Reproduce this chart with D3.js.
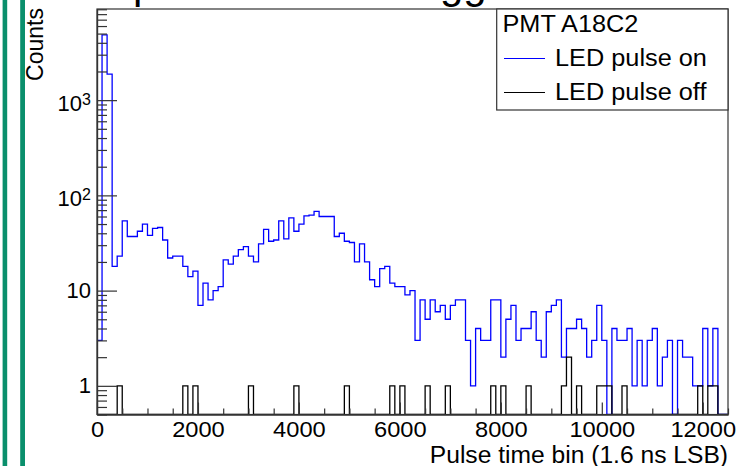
<!DOCTYPE html>
<html><head><meta charset="utf-8">
<script src="https://cdn.jsdelivr.net/npm/d3@7"></script>
<style>
body{margin:0;background:#fff}
svg{display:block}
text{font-family:"Liberation Sans",Arial,Helvetica,sans-serif;fill:#000}
</style>
</head><body>
<svg id="chart" width="748" height="466"></svg>
<script>
// ---------------- data ----------------
const binWidth = 100;            // pulse time bins (100 bins of 1.6 ns LSB units)
const xMax = 12500;
// LED pulse on (blue), counts per bin, bin i covers [i*100, (i+1)*100)
const ledOn = [
  3, 4850, 1875, 18, 23, 54, 37, 37, 42, 50,
  38, 45, 46, 34, 22, 23, 23, 18, 14, 16,
  7, 12, 8, 10, 11, 21, 19, 23, 27, 29,
  23, 20, 31, 44, 33, 34, 54, 35, 58, 42,
  50, 61, 62, 68, 60, 60, 60, 37, 40, 33,
  32, 20, 31, 20, 13, 11, 17, 18, 12, 11,
  11, 9, 10, 3, 8, 5, 8, 6, 7, 5,
  7, 8, 8, 3, 1, 4, 3, 3, 8, 8,
  2, 5, 7, 3, 4, 4, 6, 3, 2, 6,
  7, 8, 2, 4, 4, 5, 4, 2, 3, 7,
  3, 0, 4, 3, 3, 4, 1, 3, 1, 3,
  4, 1, 2, 3, 0, 3, 2, 2, 1, 1,
  4, 1, 4, 0, 0
];
// LED pulse off (black), counts per bin
const ledOff = [
  0, 0, 0, 0, 1, 0, 0, 0, 0, 0,
  0, 0, 0, 0, 0, 0, 0, 1, 0, 1,
  0, 0, 0, 0, 0, 0, 0, 0, 0, 0,
  1, 0, 0, 0, 0, 0, 0, 0, 0, 1,
  0, 0, 0, 0, 0, 0, 0, 0, 0, 1,
  0, 0, 0, 0, 0, 0, 0, 0, 1, 0,
  1, 0, 0, 0, 0, 1, 0, 0, 0, 1,
  0, 0, 0, 0, 0, 0, 0, 0, 1, 0,
  1, 0, 0, 0, 0, 1, 0, 0, 0, 0,
  0, 0, 1, 2, 0, 1, 0, 0, 0, 1,
  1, 1, 0, 0, 1, 0, 0, 0, 0, 0,
  0, 0, 0, 0, 0, 0, 0, 0, 0, 1,
  0, 1, 1, 0, 0
];
const xTickValues = [0, 2000, 4000, 6000, 8000, 10000, 12000];
const yMajorTicks = [1, 10, 100, 1000];
const yLabels = ["1", "10", "10|2", "10|3"];   // base|exponent
const legendHeader = "PMT A18C2";
const seriesNames = ["LED pulse on", "LED pulse off"];
const xTitle = "Pulse time bin (1.6 ns LSB)";
const yTitle = "Counts";
const titleFragments = [{t:"p", x:133}, {t:"gg", x:440}];

// ---------------- layout ----------------
const M = {left: 97, right: 728, top: 9, bottom: 414.5};
const SX = 1.1;  // horizontal stretch of the original rendering
const FONT = '"Liberation Sans", Arial, Helvetica, sans-serif';
const svg = d3.select("#chart");

function stretch(sel, f) {
  sel.each(function () {
    const w = this.getComputedTextLength();
    this.setAttribute("textLength", w * (f || SX));
    this.setAttribute("lengthAdjust", "spacingAndGlyphs");
  });
}

// left green bars (page decoration)
svg.append("rect").attr("x", 2.6).attr("y", 0).attr("width", 4.6).attr("height", 466).attr("fill", "#0a8f6c");
svg.append("rect").attr("x", 20.2).attr("y", 0).attr("width", 4.8).attr("height", 466).attr("fill", "#0a8f6c");

// title fragments (title is cut off at the top of the picture)
titleFragments.forEach(f => {
  svg.append("text").attr("x", f.x).attr("y", -2).attr("font-size", 42).text(f.t);
});

const x = d3.scaleLinear().domain([0, xMax]).range([M.left, M.right]);
const y = d3.scaleLog().domain([0.5, 9060]).range([M.bottom, M.top]);

svg.append("defs").append("clipPath").attr("id", "clip")
  .append("rect").attr("x", M.left).attr("y", M.top - 1)
  .attr("width", M.right - M.left).attr("height", M.bottom - M.top + 1);

// histograms
function stepPoints(vals) {
  const pts = [[0, null]];
  vals.forEach((v, i) => pts.push([i * binWidth, v]));
  pts.push([vals.length * binWidth, vals[vals.length - 1]]);
  pts.push([vals.length * binWidth, null]);
  return pts;
}
const yv = v => (v && v > 0) ? y(v) : M.bottom;
const line = d3.line().x(d => x(d[0])).y(d => yv(d[1])).curve(d3.curveStepAfter);

const plot = svg.append("g").attr("clip-path", "url(#clip)");
plot.append("path").attr("d", line(stepPoints(ledOn)))
  .attr("fill", "none").attr("stroke", "#0000ff").attr("stroke-width", 1.3);
plot.append("path").attr("d", line(stepPoints(ledOff)))
  .attr("fill", "none").attr("stroke", "#000").attr("stroke-width", 1.3);

// frame
svg.append("rect").attr("x", M.left).attr("y", M.top)
  .attr("width", M.right - M.left).attr("height", M.bottom - M.top)
  .attr("fill", "none").attr("stroke", "#333").attr("stroke-width", 1.2);

// x axis
const xMinor = d3.range(0, xMax + 1, 500).filter(v => v % 2000 !== 0);
const gxMin = svg.append("g").attr("transform", `translate(0,${M.bottom})`)
  .call(d3.axisBottom(x).tickValues(xMinor).tickSizeInner(-6).tickSizeOuter(0).tickFormat(""));
const gx = svg.append("g").attr("transform", `translate(0,${M.bottom})`)
  .call(d3.axisBottom(x).tickValues(xTickValues).tickSizeInner(-12).tickSizeOuter(0).tickFormat(d3.format("d")));
[gx, gxMin].forEach(g => {
  g.select(".domain").attr("stroke", "#333").attr("stroke-width", 1.2);
  g.selectAll(".tick line").attr("stroke", "#333").attr("stroke-width", 1.2);
});
gx.selectAll(".tick text").attr("y", 22).attr("dy", null)
  .attr("font-family", FONT).attr("font-size", 21.5).attr("fill", "#000").call(stretch);

// y axis
const yMinor = [];
[0.1, 1, 10, 100, 1000].forEach(d => { for (let k = 2; k <= 9; k++) { const v = d * k; if (v >= 0.5 && v <= 9060) yMinor.push(v); } });
const gyMin = svg.append("g").attr("transform", `translate(${M.left},0)`)
  .call(d3.axisLeft(y).tickValues(yMinor).tickSizeInner(-10).tickSizeOuter(0).tickFormat(""));
const gy = svg.append("g").attr("transform", `translate(${M.left},0)`)
  .call(d3.axisLeft(y).tickValues(yMajorTicks).tickSizeInner(-20).tickSizeOuter(0).tickFormat(""));
[gy, gyMin].forEach(g => {
  g.select(".domain").attr("stroke", "#333").attr("stroke-width", 1.2);
  g.selectAll(".tick line").attr("stroke", "#333").attr("stroke-width", 1.2);
});
yMajorTicks.forEach((v, i) => {
  const [base, exp] = yLabels[i].split("|");
  const t = svg.append("text").attr("text-anchor", "end").attr("x", 91)
    .attr("y", y(v) + (exp ? 10.5 : 7)).attr("font-size", 22);
  t.append("tspan").text(base);
  if (exp) t.append("tspan").attr("font-size", 16).attr("dy", -5.5).text(exp);
});

// axis titles
svg.append("text").attr("text-anchor", "end").attr("x", M.right).attr("y", 463)
  .attr("font-size", 23).text(xTitle).call(stretch, 1.07);
svg.append("text").attr("text-anchor", "end")
  .attr("transform", `translate(43,8) rotate(-90)`)
  .attr("font-size", 23).text(yTitle);

// legend
const lg = svg.append("g");
lg.append("rect").attr("x", 496.7).attr("y", M.top).attr("width", M.right - 496.7).attr("height", 101)
  .attr("fill", "#fff").attr("stroke", "#333").attr("stroke-width", 1.2);
lg.append("text").attr("x", 502.5).attr("y", 31.5).attr("font-size", 23).text(legendHeader).call(stretch);
const colors = ["#0000ff", "#000"];
seriesNames.forEach((n, i) => {
  const ly = 58.5 + i * 34;
  lg.append("line").attr("x1", 504).attr("x2", 545).attr("y1", ly).attr("y2", ly)
    .attr("stroke", colors[i]).attr("stroke-width", 1.2);
  lg.append("text").attr("x", 555).attr("y", ly + 7.5).attr("font-size", 23).text(n).call(stretch);
});
</script>
</body></html>
